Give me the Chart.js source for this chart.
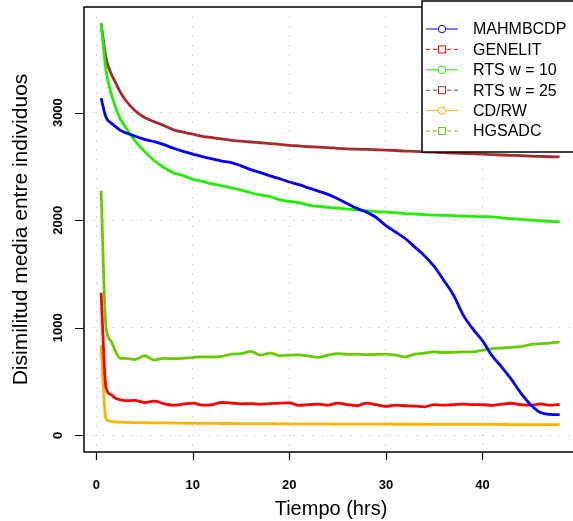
<!DOCTYPE html>
<html>
<head>
<meta charset="utf-8">
<script src="https://cdn.jsdelivr.net/npm/chart.js@4/dist/chart.umd.min.js"></script>
<style>
  html, body { margin: 0; padding: 0; background: #fff; overflow: hidden; width: 573px; height: 521px; }
  #wrap { width: 590px; height: 521px; }
</style>
</head>
<body>
<div id="wrap"><canvas id="myChart" width="590" height="521" style="width:590px;height:521px"></canvas></div>
<script>
// tiempo en horas
const horas = [0.5, 1, 1.5, 2, 2.5, 3, 4, 5, 6, 7, 8, 9, 10, 11, 12, 13, 14, 15, 16, 17, 18, 19, 20,
  21, 22, 23, 24, 25, 26, 27, 28, 29, 30, 31, 32, 33, 34, 35, 36, 37, 38, 39, 40, 41, 42, 43, 44, 45, 46, 47, 48];

const mahmbcdp = [3135, 2960, 2905, 2870, 2835, 2815, 2782, 2752, 2730, 2702, 2670, 2640, 2615, 2590, 2570, 2550, 2535, 2505, 2470, 2442, 2412, 2385, 2355,
  2330, 2300, 2270, 2240, 2200, 2155, 2110, 2075, 2025, 1950, 1890, 1830, 1750, 1670, 1570, 1440, 1305, 1120, 990, 880, 740, 635, 520, 390, 285, 212, 195, 193];
const genelit = [1325, 450, 380, 345, 330, 322, 325, 305, 318, 295, 280, 290, 300, 280, 285, 305, 300, 292, 295, 290, 295, 300, 302,
  278, 285, 290, 280, 300, 285, 275, 300, 285, 270, 280, 275, 272, 265, 285, 280, 285, 290, 285, 286, 278, 290, 298, 285, 280, 292, 280, 288];
const rts10 = [3830, 3400, 3190, 3050, 2940, 2870, 2740, 2640, 2555, 2490, 2440, 2415, 2380, 2360, 2338, 2320, 2300, 2280, 2255, 2235, 2220, 2190, 2175,
  2163, 2140, 2128, 2120, 2112, 2103, 2095, 2088, 2080, 2075, 2070, 2062, 2057, 2052, 2048, 2045, 2042, 2038, 2035, 2033, 2030, 2022, 2015, 2008, 2000, 1995, 1990, 1985];
const rts25 = [3830, 3510, 3370, 3280, 3190, 3120, 3020, 2955, 2915, 2880, 2840, 2818, 2800, 2780, 2768, 2755, 2742, 2735, 2727, 2720, 2712, 2705, 2695,
  2690, 2683, 2680, 2675, 2668, 2663, 2660, 2658, 2655, 2652, 2648, 2643, 2640, 2635, 2632, 2628, 2624, 2621, 2618, 2615, 2610, 2606, 2603, 2600, 2596, 2593, 2590, 2588];
const cdrw = [838, 155, 130, 125, 122, 120, 118, 117, 116, 115, 114, 113, 112, 111, 111, 110, 110, 109, 109, 108, 108, 107, 107,
  107, 106, 106, 106, 105, 105, 105, 104, 104, 104, 103, 103, 103, 103, 102, 102, 102, 102, 101, 101, 101, 101, 100, 100, 100, 100, 100, 100];
const hgsadc = [2275, 1010, 880, 780, 715, 715, 705, 740, 700, 715, 712, 716, 725, 730, 728, 735, 755, 760, 780, 745, 765, 740, 745,
  748, 738, 725, 745, 760, 752, 755, 750, 752, 755, 745, 730, 755, 765, 775, 770, 772, 775, 776, 790, 805, 812, 818, 825, 845, 852, 858, 866];

const nombres = ['MAHMBCDP', 'GENELIT', 'RTS w = 10', 'RTS w = 25', 'CD/RW', 'HGSADC'];
const series = [mahmbcdp, genelit, rts10, rts25, cdrw, hgsadc];
const colores = ['#0000FF', '#FF0000', '#22EE00', '#A52A2A', '#FFB300', '#66CC00'];
const marcas = ['circle', 'rect', 'circle', 'rect', 'circle', 'rect'];
const guiones = [[], [4, 3], [], [4, 3], [], [4, 3]];

const xTicks = [0, 10, 20, 30, 40];
const yTicks = [0, 1000, 2000, 3000];

const datasets = series.map((vals, i) => ({
  label: nombres[i],
  data: vals.map((v, j) => ({ x: horas[j], y: v })),
  borderColor: colores[i],
  borderWidth: 2.8,
  pointRadius: 0,
  fill: false,
  cubicInterpolationMode: 'monotone',
  order: i
}));

// caja, marcas de eje y leyenda al estilo R
const estiloR = {
  id: 'estiloR',
  afterDraw(chart) {
    const ctx = chart.ctx;
    const a = chart.chartArea;
    const sx = chart.scales.x, sy = chart.scales.y;
    ctx.save();
    ctx.strokeStyle = '#000';
    ctx.lineWidth = 1.5;
    ctx.strokeRect(a.left, a.top, a.right - a.left, a.bottom - a.top);
    ctx.lineWidth = 1.2;
    ctx.beginPath();
    xTicks.forEach(t => {
      const px = Math.round(sx.getPixelForValue(t)) + 0.5;
      ctx.moveTo(px, a.bottom);
      ctx.lineTo(px, a.bottom + 8);
    });
    yTicks.forEach(t => {
      const py = Math.round(sy.getPixelForValue(t)) + 0.5;
      ctx.moveTo(a.left, py);
      ctx.lineTo(a.left - 9, py);
    });
    ctx.stroke();

    // leyenda
    const lx = 422, ly = 1;
    ctx.fillStyle = '#fff';
    ctx.fillRect(lx, ly, 180, 151);
    ctx.lineWidth = 1.5;
    ctx.strokeStyle = '#000';
    ctx.strokeRect(lx, ly, 180, 151);
    ctx.font = '16px "Liberation Sans", Arial, sans-serif';
    ctx.textBaseline = 'middle';
    ctx.textAlign = 'left';
    nombres.forEach((n, i) => {
      const y = 29 + i * 20.4;
      ctx.strokeStyle = colores[i];
      ctx.lineWidth = 1;
      ctx.setLineDash(guiones[i]);
      ctx.beginPath();
      ctx.moveTo(426, y);
      ctx.lineTo(458, y);
      ctx.stroke();
      ctx.setLineDash([]);
      ctx.beginPath();
      if (marcas[i] === 'circle') {
        ctx.fillStyle = '#fff';
        ctx.arc(442, y, 3.7, 0, Math.PI * 2);
        ctx.fill();
        ctx.stroke();
      } else {
        ctx.fillStyle = '#fff';
        ctx.fillRect(438.5, y - 3.5, 7, 7);
        ctx.strokeRect(438.5, y - 3.5, 7, 7);
      }
      ctx.fillStyle = '#000';
      ctx.fillText(n, 473, y + 1);
    });
    ctx.restore();
  }
};

const fuenteTicks = { family: '"Liberation Sans", Arial, sans-serif', size: 13, weight: 'bold' };

const myChart = new Chart('myChart', {
  type: 'line',
  data: { datasets: datasets },
  options: {
    responsive: false,
    animation: false,
    devicePixelRatio: 1,
    layout: { padding: { top: 7, right: 12, left: 0, bottom: 0 } },
    plugins: { legend: { display: false }, tooltip: { enabled: false } },
    scales: {
      x: {
        type: 'linear',
        min: -1.27,
        max: 49.9,
        afterFit: s => { s.height = 69; s.paddingLeft = 0; s.paddingRight = 0; },
        afterBuildTicks: s => { s.ticks = xTicks.map(v => ({ value: v })); },
        ticks: { color: '#000', font: fuenteTicks, padding: 26, maxRotation: 0, callback: v => String(v) },
        grid: { color: '#c8c8c8', lineWidth: 1, drawTicks: false },
        border: { display: false, dash: [1.5, 8] },
        title: { display: true, text: 'Tiempo (hrs)', color: '#000', font: { family: '"Liberation Sans", Arial, sans-serif', size: 20 }, padding: { top: 0, bottom: 0 } }
      },
      y: {
        type: 'linear',
        min: -155,
        max: 3982,
        afterFit: s => { s.width = 84; s.paddingTop = 0; s.paddingBottom = 0; },
        afterBuildTicks: s => { s.ticks = yTicks.map(v => ({ value: v })); },
        ticks: { color: '#000', font: fuenteTicks, padding: 11, minRotation: 90, maxRotation: 90, crossAlign: 'center', callback: v => String(v) },
        grid: { color: '#c8c8c8', lineWidth: 1, drawTicks: false },
        border: { display: false, dash: [1.5, 8] },
        title: { display: true, text: 'Disimilitud media entre individuos', color: '#000', font: { family: '"Liberation Sans", Arial, sans-serif', size: 21 }, padding: { top: 9, bottom: 0 } }
      }
    }
  },
  plugins: [estiloR]
});
</script>
</body>
</html>
